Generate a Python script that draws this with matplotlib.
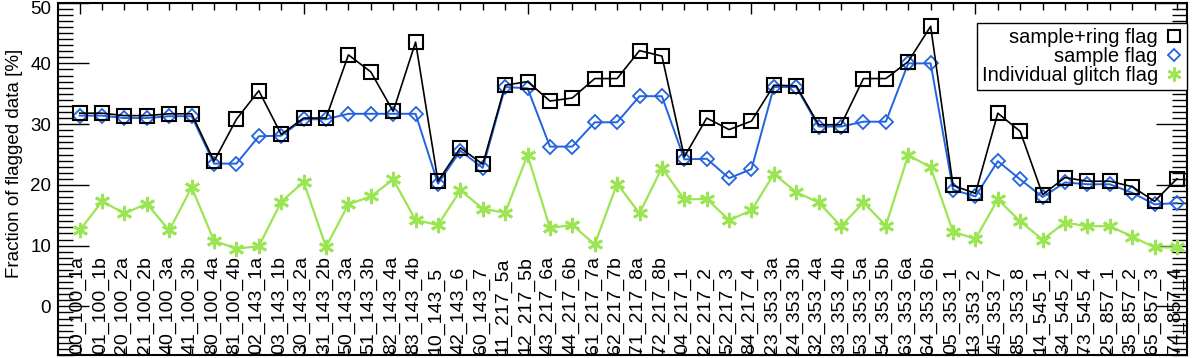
import matplotlib
matplotlib.use("Agg")
import matplotlib.pyplot as plt
import matplotlib.transforms as mtransforms
from matplotlib.lines import Line2D
from matplotlib.ticker import MultipleLocator

plt.rcParams['font.family'] = ['Liberation Sans', 'DejaVu Sans']

# detector names
labels = ['00_100_1a', '01_100_1b', '20_100_2a', '21_100_2b', '40_100_3a', '41_100_3b',
          '80_100_4a', '81_100_4b', '02_143_1a', '03_143_1b', '30_143_2a', '31_143_2b',
          '50_143_3a', '51_143_3b', '82_143_4a', '83_143_4b', '10_143_5', '42_143_6',
          '60_143_7', '11_217_5a', '12_217_5b', '43_217_6a', '44_217_6b', '61_217_7a',
          '62_217_7b', '71_217_8a', '72_217_8b', '04_217_1', '22_217_2', '52_217_3',
          '84_217_4', '23_353_3a', '24_353_3b', '32_353_4a', '33_353_4b', '53_353_5a',
          '54_353_5b', '63_353_6a', '64_353_6b', '05_353_1', '13_353_2', '45_353_7',
          '85_353_8', '14_545_1', '34_545_2', '73_545_4', '25_857_1', '35_857_2',
          '65_857_3', '74_857_4']

# fraction of flagged data [%]
ring_flag = [31.8, 31.8, 31.4, 31.4, 31.7, 31.7, 23.9, 30.8, 35.5, 28.3,
             31.0, 31.0, 41.4, 38.6, 32.1, 43.5, 20.6, 26.1, 23.4, 36.4,
             37.0, 33.8, 34.3, 37.5, 37.5, 42.1, 41.2, 24.6, 31.0, 29.1,
             30.5, 36.4, 36.3, 29.9, 29.9, 37.5, 37.5, 40.3, 46.1, 19.9,
             18.6, 31.8, 28.8, 18.4, 21.2, 20.6, 20.6, 19.7, 17.3, 21.0]
sample_flag = [31.4, 31.4, 31.0, 31.0, 31.3, 31.3, 23.5, 23.5, 28.0, 28.1,
               30.8, 30.8, 31.7, 31.7, 31.7, 31.7, 20.2, 25.6, 22.8, 36.1,
               35.9, 26.3, 26.3, 30.3, 30.3, 34.6, 34.6, 24.2, 24.3, 21.1,
               22.6, 36.1, 36.1, 29.6, 29.6, 30.4, 30.4, 40.0, 40.0, 19.2,
               18.1, 23.9, 20.9, 18.0, 20.4, 20.1, 20.1, 18.7, 16.8, 17.0]
glitch_flag = [12.5, 17.3, 15.3, 16.9, 12.5, 19.6, 10.8, 9.5, 9.9, 17.2,
               20.5, 9.8, 16.8, 18.1, 20.9, 14.2, 13.4, 19.1, 16.1, 15.4,
               24.9, 12.9, 13.4, 10.2, 20.2, 15.3, 22.8, 17.6, 17.7, 14.2,
               15.8, 21.8, 18.8, 17.1, 13.2, 17.1, 13.3, 24.9, 22.9, 12.3,
               11.1, 17.6, 14.0, 11.0, 13.8, 13.2, 13.2, 11.5, 9.7, 9.7]

x = list(range(len(labels)))

c_ring = 'black'
c_samp = '#2163e0'
c_glit = '#9be552'

fig = plt.figure(figsize=(12, 3.58), dpi=100)
ax = fig.add_axes([0.0483, 0.0084, 0.9409, 0.9843])

ax.plot(x, glitch_flag, color=c_glit, lw=1.6, marker=(6, 2, 0), ms=11, mew=2.0,
        mec=c_glit, zorder=2)
ax.plot(x, sample_flag, color=c_samp, lw=1.4, marker='D', ms=7, mfc='none',
        mec=c_samp, mew=1.3, zorder=3)
ax.plot(x, ring_flag, color=c_ring, lw=1.2, marker='s', ms=10, mfc='none',
        mec=c_ring, mew=1.5, zorder=4)

ax.set_xlim(-0.97, 49.45)
ax.set_ylim(-8, 50)

ax.set_yticks([0, 10, 20, 30, 40, 50])
ax.yaxis.set_minor_locator(MultipleLocator(1))
ax.set_xticks([0, 10, 20, 30, 40])
ax.xaxis.set_minor_locator(MultipleLocator(1))
ax.set_xticklabels([])
ax.tick_params(axis='both', which='both', direction='in', top=True, right=True,
               labelsize=13.5, width=1)
ax.tick_params(axis='y', which='major', length=22)
ax.tick_params(axis='y', which='minor', length=11)
ax.tick_params(axis='x', which='major', length=8)
ax.tick_params(axis='x', which='minor', length=5)
ax.tick_params(axis='y', labelleft=True, labelright=False, pad=5)
for s in ax.spines.values():
    s.set_linewidth(1.5)

# top label sits a bit lower so it is not clipped
fig.canvas.draw()
top_lab = ax.get_yticklabels()[-1]
top_lab.set_transform(top_lab.get_transform() +
                      mtransforms.ScaledTranslation(0, -5 / 100, fig.dpi_scale_trans))

for xi, lab in zip(x, labels):
    ax.text(xi - 0.08, -7.8, lab, rotation=90, ha='center', va='bottom', fontsize=14)

fig.text(0.012, 0.545, 'Fraction of flagged data [%]', rotation=90, ha='center',
         va='center', fontsize=13.5)

handles = [
    Line2D([], [], ls='none', marker='s', ms=9, mfc='none', mec=c_ring, mew=1.5),
    Line2D([], [], ls='none', marker='D', ms=6.5, mfc='none', mec=c_samp, mew=1.3),
    Line2D([], [], ls='none', marker=(6, 2, 0), ms=10, mec=c_glit, mew=1.8),
]
leg = ax.legend(handles, ['sample+ring flag', 'sample flag', 'Individual glitch flag'],
                loc='upper right', bbox_to_anchor=(1.0, 0.943), borderaxespad=0,
                markerfirst=False, fancybox=False, framealpha=1, edgecolor='black',
                fontsize=14.5, handlelength=0.8, handletextpad=0.4, labelspacing=0.0,
                borderpad=0.25)
leg.get_frame().set_linewidth(1.0)

fig.savefig('out.png', dpi=100)
